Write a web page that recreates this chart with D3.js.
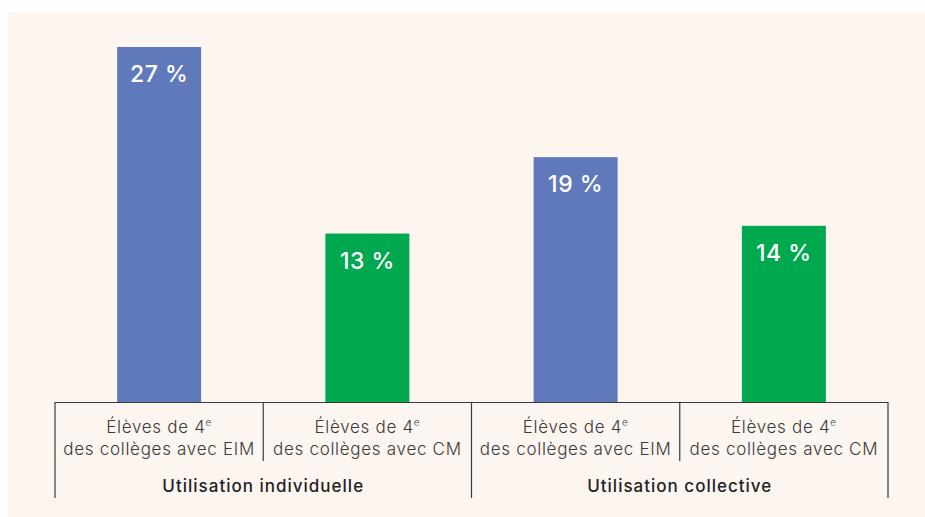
<!DOCTYPE html>
<html><head><meta charset="utf-8">
<script src="https://cdn.jsdelivr.net/npm/d3@7"></script>
<style>html,body{margin:0;padding:0;background:#fff;}svg{display:block;}</style>
</head><body>
<svg id="c" width="925" height="517"></svg>
<script>
const categories = ["EIM-ind", "CM-ind", "EIM-col", "CM-col"];
const line1 = ["Élèves de 4", "Élèves de 4", "Élèves de 4", "Élèves de 4"];
const line2 = ["des collèges avec EIM", "des collèges avec CM", "des collèges avec EIM", "des collèges avec CM"];
const values = [27.4, 13.0, 18.9, 13.6];
const labels = ["27 %", "13 %", "19 %", "14 %"];
const colors = ["#5f79bb", "#00a84f", "#5f79bb", "#00a84f"];
const groups = ["Utilisation individuelle", "Utilisation collective"];

const svg = d3.select("#c");
svg.append("rect").attr("x", 8).attr("y", 12).attr("width", 917).attr("height", 505).attr("fill", "#fdf5f0");

const left = 55, right = 888, base = 402;
const x = d3.scaleBand().domain(categories).range([left, right]).paddingInner(0).paddingOuter(0);
const y = d3.scaleLinear().domain([0, 27.4]).range([base, 47]);
const barW = 84;
const font = "Inter, sans-serif";

svg.selectAll("rect.bar").data(values).join("rect")
  .attr("class", "bar")
  .attr("x", (d, i) => x(categories[i]) + x.bandwidth() / 2 - barW / 2)
  .attr("width", barW)
  .attr("y", d => y(d))
  .attr("height", d => base - y(d))
  .attr("fill", (d, i) => colors[i]);

svg.selectAll("text.val").data(values).join("text")
  .attr("class", "val")
  .attr("x", (d, i) => x(categories[i]) + x.bandwidth() / 2)
  .attr("y", d => y(d) + 35)
  .attr("text-anchor", "middle")
  .attr("fill", "#fff")
  .style("font-family", font)
  .style("font-size", "23px")
  .style("font-weight", 500)
  .style("letter-spacing", "0.5px")
  .text((d, i) => labels[i]);

const stroke = "#3a3a3a";
const g = svg.append("g").attr("stroke", stroke).attr("stroke-width", 1.2);
g.append("line").attr("x1", left).attr("x2", right).attr("y1", base + 0.5).attr("y2", base + 0.5);
const gb = [x(categories[0]), x(categories[2]), right];
gb.forEach(v => g.append("line").attr("x1", v).attr("x2", v).attr("y1", base).attr("y2", 498));
[x(categories[1]), x(categories[3])].forEach(v => g.append("line").attr("x1", v).attr("x2", v).attr("y1", base).attr("y2", 461));

categories.forEach((c, i) => {
  const cx = x(c) + x.bandwidth() / 2;
  const t1 = svg.append("text").attr("x", cx).attr("y", 433).attr("text-anchor", "middle")
    .attr("fill", "#3a3a3a").style("font-family", font).style("font-size", "17px").style("font-weight", 300)
    .style("letter-spacing", "0.7px");
  t1.append("tspan").text(line1[i]);
  t1.append("tspan").attr("dy", -7).style("font-size", "10px").text("e");
  svg.append("text").attr("x", cx).attr("y", 455).attr("text-anchor", "middle")
    .attr("fill", "#3a3a3a").style("font-family", font).style("font-size", "17px").style("font-weight", 300)
    .style("letter-spacing", "0.7px").text(line2[i]);
});

groups.forEach((gname, j) => {
  const cx = (x(categories[j * 2]) + x(categories[j * 2 + 1]) + x.bandwidth()) / 2;
  svg.append("text").attr("x", cx).attr("y", 492).attr("text-anchor", "middle")
    .attr("fill", "#222").style("font-family", font).style("font-size", "17px").style("font-weight", 500)
    .style("letter-spacing", "1px")
    .text(gname);
});
</script>
</body></html>
